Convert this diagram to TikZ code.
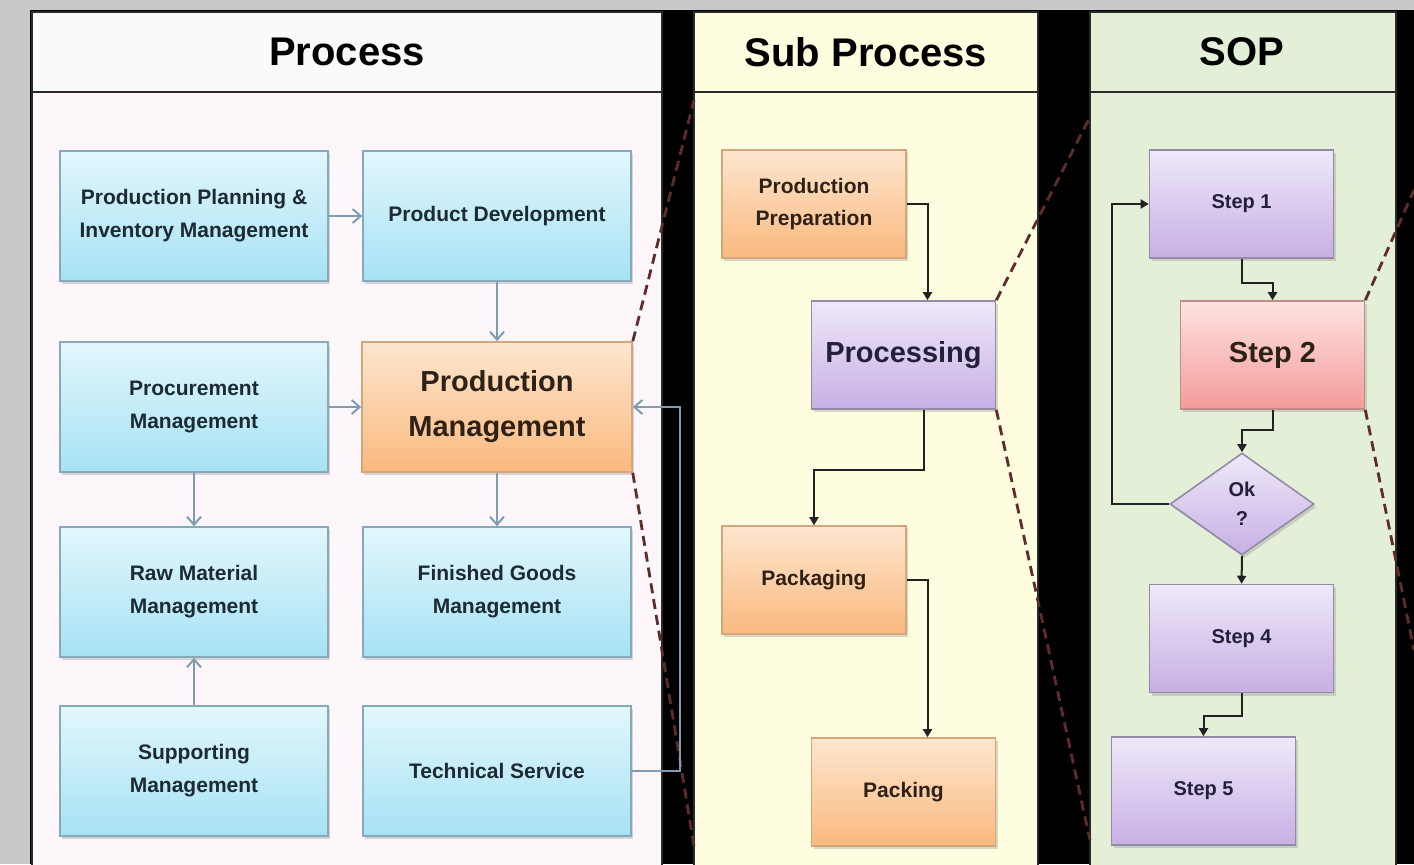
\documentclass[tikz,border=0pt]{standalone}
\usepackage{fontspec}
\setmainfont{Liberation Sans}
\usetikzlibrary{shapes.geometric,shadows,arrows.meta}

\definecolor{margin}{HTML}{C9C9C9}
\definecolor{frame}{HTML}{2A2A2A}
\definecolor{headone}{HTML}{FBFAFB}
\definecolor{bodyone}{HTML}{FDF6FA}
\definecolor{bodytwo}{HTML}{FEFDDF}
\definecolor{bodythree}{HTML}{E3F0D7}
\definecolor{bluetop}{HTML}{E2F7FC}
\definecolor{bluebot}{HTML}{A6E2F4}
\definecolor{blueline}{HTML}{86AABA}
\definecolor{bluetext}{HTML}{1D2A33}
\definecolor{orangetop}{HTML}{FDE6CF}
\definecolor{orangebot}{HTML}{FAB97E}
\definecolor{orangeline}{HTML}{D4A67C}
\definecolor{browntext}{HTML}{2E2218}
\definecolor{purpletop}{HTML}{EFE8FA}
\definecolor{purplebot}{HTML}{C6B0E4}
\definecolor{purpleline}{HTML}{948AA8}
\definecolor{purpletext}{HTML}{25203A}
\definecolor{pinktop}{HTML}{FDE3E1}
\definecolor{pinkbot}{HTML}{F29C9A}
\definecolor{pinkline}{HTML}{C08C88}
\definecolor{flowblue}{HTML}{7F9CB3}
\definecolor{flowblack}{HTML}{222222}
\definecolor{zoomred}{HTML}{5E2C2C}

\begin{document}
\begin{tikzpicture}[x=0.5pt,y=-0.5pt,
    box/.style={rectangle,line width=0.8pt,align=center,inner sep=2pt,
      drop shadow={shadow xshift=1.2pt,shadow yshift=-1.5pt,opacity=0.3}},
    bluebox/.style={box,draw=blueline,top color=bluetop,bottom color=bluebot,text=bluetext,
      minimum width=134pt,minimum height=65pt,font=\fontsize{10.5}{16.5}\selectfont\bfseries},
    orangebox/.style={box,draw=orangeline,top color=orangetop,bottom color=orangebot,text=browntext},
    purplebox/.style={box,draw=purpleline,top color=purpletop,bottom color=purplebot,text=purpletext},
    pinkbox/.style={box,draw=pinkline,top color=pinktop,bottom color=pinkbot,text=browntext},
    subsize/.style={minimum width=92pt,minimum height=54pt},
    small/.style={font=\fontsize{10.5}{16}\selectfont\bfseries},
    stepfont/.style={font=\fontsize{10}{14.5}\selectfont\bfseries},
    big/.style={font=\fontsize{14.5}{22.5}\selectfont\bfseries},
    title/.style={font=\fontsize{20}{24}\selectfont\bfseries,text=black},
    blueflow/.style={draw=flowblue,line width=1pt,-{Straight Barb[length=4pt,width=7pt]}},
    flow/.style={draw=flowblack,line width=1pt,-{Triangle[length=4pt,width=4.5pt]}},
    zoomline/.style={draw=zoomred,line width=1.4pt,dash pattern=on 5pt off 3pt}
  ]
  \useasboundingbox (0,0) rectangle (1414,864);

  % Background and margins
  \fill[black] (0,0) rectangle (1414,864);
  \fill[margin] (0,0) rectangle (1414,10);
  \fill[margin] (0,0) rectangle (30,864);

  % Panels
  \draw[frame,line width=1pt,fill=bodyone] (32,12) rectangle (662,868);
  \fill[headone] (33,13) rectangle (661,92);
  \draw[frame,line width=1pt,fill=bodytwo] (694,12) rectangle (1038,868);
  \draw[frame,line width=1pt,fill=bodythree] (1090,12) rectangle (1396,868);
  \draw[frame,line width=1pt] (32,92) -- (662,92);
  \draw[frame,line width=1pt] (694,92) -- (1038,92);
  \draw[frame,line width=1pt] (1090,92) -- (1396,92);

  % Titles
  \node[title] (tproc) at (347,52) {Process};
  \node[title] (tsub) at (866,52) {Sub Process};
  \node[title] (tsop) at (1242,52) {SOP};

  % Process boxes
  \node[bluebox] (ppim) at (194,216) {Production Planning \&\\Inventory Management};
  \node[bluebox] (pd) at (497,216) {Product Development};
  \node[bluebox] (procm) at (194,407) {Procurement\\Management};
  \node[orangebox,big,minimum width=135pt,minimum height=65pt] (pm) at (497,407) {Production\\Management};
  \node[bluebox] (rmm) at (194,592) {Raw Material\\Management};
  \node[bluebox] (fgm) at (497,592) {Finished Goods\\Management};
  \node[bluebox] (sm) at (194,771) {Supporting\\Management};
  \node[bluebox] (ts) at (497,771) {Technical Service};

  % Sub process boxes
  \node[orangebox,subsize,small] (pp) at (814,204) {Production\\Preparation};
  \node[purplebox,subsize,big] (proc) at (903.5,355) {Processing};
  \node[orangebox,subsize,small] (pkg) at (814,580) {Packaging};
  \node[orangebox,subsize,small] (packing) at (903.5,792) {Packing};

  % SOP boxes
  \node[purplebox,subsize,stepfont] (s1) at (1241.5,204) {Step 1};
  \node[pinkbox,subsize,big] (s2) at (1272.5,355) {Step 2};
  \node[purplebox,diamond,stepfont,inner sep=0pt,minimum width=72pt,minimum height=51pt]
    (ok) at (1242,504) {Ok\\?};
  \node[purplebox,subsize,stepfont] (s4) at (1241.5,638.5) {Step 4};
  \node[purplebox,subsize,stepfont] (s5) at (1203.5,791) {Step 5};

  % Zoom lines
  \coordinate (za) at (694,100);
  \coordinate (zb) at (694,846);
  \coordinate (zc) at (1090,117);
  \coordinate (zd) at (1090,840);
  \coordinate (ze) at (1414,190);
  \coordinate (zf) at (1414,650);
  \draw[zoomline] (pm.north east) -- (za);
  \draw[zoomline] (pm.south east) -- (zb);
  \draw[zoomline] (proc.north east) -- (zc);
  \draw[zoomline] (proc.south east) -- (zd);
  \draw[zoomline] (s2.north east) -- (ze);
  \draw[zoomline] (s2.south east) -- (zf);

  % Process arrows
  \draw[blueflow] (ppim.east) -- (pd.west);
  \draw[blueflow] (pd.south) -- (pm.north);
  \draw[blueflow] (procm.east) -- (pm.west);
  \draw[blueflow] (procm.south) -- (rmm.north);
  \draw[blueflow] (pm.south) -- (fgm.north);
  \draw[blueflow] (sm.north) -- (rmm.south);
  \draw[blueflow] (ts.east) -- ++(48,0) |- (pm.east);

  % Sub process arrows
  \draw[flow] (pp.east) -| ([xshift=12pt]proc.north);
  \draw[flow] ([xshift=10pt]proc.south) -- ++(0,60) -| (pkg.north);
  \draw[flow] (pkg.east) -| ([xshift=12pt]packing.north);

  % SOP arrows
  \draw[flow] (s1.south) -- ++(0,24) -| (s2.north);
  \draw[flow] (s2.south) -- ++(0,20) -| (ok.north);
  \draw[flow] (ok.west) -- ++(-57,0) |- (s1.west);
  \draw[flow] (ok.south) -- (s4.north);
  \draw[flow] (s4.south) -- ++(0,23) -| (s5.north);
\end{tikzpicture}
\end{document}
